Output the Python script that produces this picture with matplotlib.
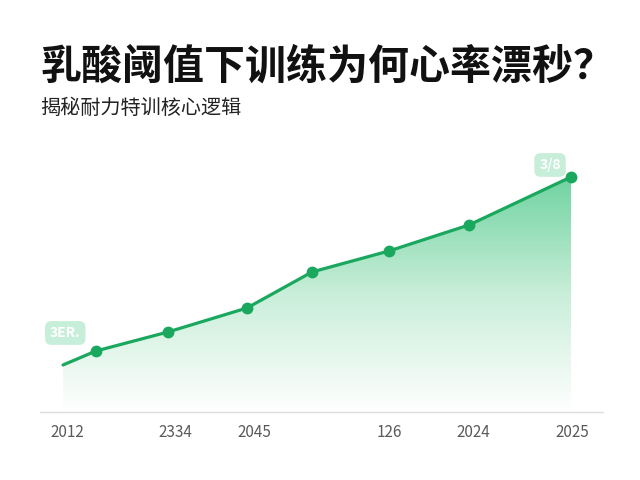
import matplotlib
matplotlib.use("Agg")
import matplotlib.pyplot as plt
import numpy as np
from matplotlib.patches import Polygon
from matplotlib.colors import LinearSegmentedColormap

plt.rcParams['font.family'] = ['Noto Sans CJK SC', 'DejaVu Sans']

# data (x in axis units, irregular spacing)
x_vals = [23, 56, 128, 207, 272, 349, 429, 531]
y_vals = [47, 61, 80, 104, 140, 161, 187, 235]
tick_pos = [27, 135, 214, 349, 433, 532]
tick_labels = ["2012", "2334", "2045", "126", "2024", "2025"]
start_label = "3ER."
end_label = "3/8"

title = "乳酸阈值下训练为何心率漂秒？"
subtitle = "揭秘耐力特训核心逻辑"

line_col = "#1aa85e"

fig = plt.figure(figsize=(6.4, 4.8), dpi=100)
fig.patch.set_facecolor("white")
ax = fig.add_axes([0.0625, 0.1417, 0.8797, 0.5667])
ax.set_xlim(0, 563)
ax.set_ylim(0, 272)

# gradient fill under the line
grad = np.linspace(0, 1, 256).reshape(-1, 1)
cmap = LinearSegmentedColormap.from_list("g", ["#ffffff", "#c9eed9", "#6fd3a0"])
img = ax.imshow(grad, cmap=cmap, aspect="auto", origin="lower",
                extent=[x_vals[0], x_vals[-1], 0, max(y_vals)], zorder=1)
poly = Polygon(list(zip(x_vals, y_vals)) + [(x_vals[-1], 0), (x_vals[0], 0)],
               closed=True, facecolor="none", edgecolor="none")
ax.add_patch(poly)
img.set_clip_path(poly)

ax.plot(x_vals, y_vals, color=line_col, lw=2.3, zorder=3, solid_capstyle="round")
ax.plot(x_vals[1:], y_vals[1:], "o", color=line_col, ms=7.5, zorder=4)

box = dict(boxstyle="round,pad=0.35,rounding_size=0.45", fc="#c6eed8", ec="none")
ax.text(x_vals[0] - 13, y_vals[0] + 32, start_label, color="white", fontsize=10,
        fontweight="bold", ha="left", va="center", bbox=box, zorder=5)
ax.text(x_vals[-1] - 21, y_vals[-1] + 12, end_label, color="white", fontsize=10,
        fontweight="bold", ha="center", va="center", bbox=box, zorder=5)

ax.set_xticks(tick_pos)
ax.set_xticklabels(tick_labels, color="#5a5a5a", fontsize=11)
ax.tick_params(axis="x", length=0, pad=9)
ax.set_yticks([])
for s in ["top", "right", "left"]:
    ax.spines[s].set_visible(False)
ax.spines["bottom"].set_color("#dddddd")
ax.spines["bottom"].set_linewidth(1.0)

fig.text(0.0625, 0.862, title, fontsize=29.5, fontweight="black", color="#111111",
         ha="left", va="center")
fig.text(0.0625, 0.774, subtitle, fontsize=14.5, color="#222222",
         ha="left", va="center")

fig.savefig("out.png", dpi=100, facecolor="white")
